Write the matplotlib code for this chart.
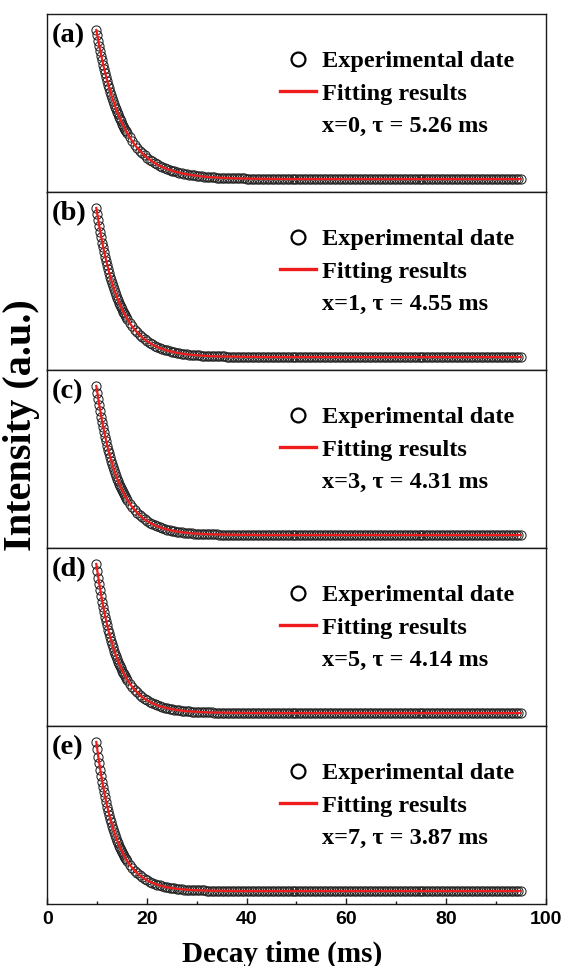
import matplotlib
matplotlib.use('Agg')
import matplotlib.pyplot as plt
from matplotlib.lines import Line2D
from matplotlib.ticker import MultipleLocator

# ---- data (intensity normalised: baseline 0, first point 1) ----
time_ms = [
    9.8, 10.0, 10.2, 10.4, 10.6, 10.8, 11.0, 11.2, 11.4, 11.6, 11.8, 12.0, 12.2, 12.4, 12.6, 12.8,
    13.0, 13.2, 13.4, 13.6, 13.8, 14.0, 14.2, 14.4, 14.6, 14.8, 15.0, 15.2, 15.4, 15.6, 15.8, 16.0,
    16.5, 17.0, 17.5, 18.0, 18.5, 19.0, 19.5, 20.0, 20.5, 21.0, 21.5, 22.0, 22.5, 23.0,
    23.5, 24.0, 24.5, 25.0, 25.5, 26.0, 26.5, 27.0, 27.5, 28.0, 28.5, 29.0, 29.5, 30.0,
    30.5, 31.0, 31.5, 32.0, 32.5, 33.0, 33.5, 34.0, 34.5, 35.0,
    35.5, 36.0, 36.5, 37.0, 37.5, 38.0, 38.5, 39.0, 39.5, 40.0,
    40.5, 41.0, 41.5, 42.0, 42.5, 43.0, 43.5, 44.0, 44.5, 45.0,
    45.5, 46.0, 46.5, 47.0, 47.5, 48.0, 48.5, 49.0, 49.5, 50.0,
    50.5, 51.0, 51.5, 52.0, 52.5, 53.0, 53.5, 54.0, 54.5, 55.0,
    55.5, 56.0, 56.5, 57.0, 57.5, 58.0, 58.5, 59.0, 59.5, 60.0,
    60.5, 61.0, 61.5, 62.0, 62.5, 63.0, 63.5, 64.0, 64.5, 65.0,
    65.5, 66.0, 66.5, 67.0, 67.5, 68.0, 68.5, 69.0, 69.5, 70.0,
    70.5, 71.0, 71.5, 72.0, 72.5, 73.0, 73.5, 74.0, 74.5, 75.0,
    75.5, 76.0, 76.5, 77.0, 77.5, 78.0, 78.5, 79.0, 79.5, 80.0,
    80.5, 81.0, 81.5, 82.0, 82.5, 83.0, 83.5, 84.0, 84.5, 85.0,
    85.5, 86.0, 86.5, 87.0, 87.5, 88.0, 88.5, 89.0, 89.5, 90.0,
    90.5, 91.0, 91.5, 92.0, 92.5, 93.0, 93.5, 94.0, 94.5, 95.0,
]

intensity_a = [
    1.000, 0.963, 0.927, 0.892, 0.859, 0.827, 0.796, 0.766, 0.738, 0.710, 0.684, 0.658, 0.634, 0.610, 0.587, 0.565,
    0.544, 0.524, 0.504, 0.486, 0.467, 0.450, 0.433, 0.417, 0.401, 0.387, 0.372, 0.358, 0.345, 0.332, 0.320, 0.308,
    0.280, 0.254, 0.231, 0.210, 0.191, 0.174, 0.158, 0.144, 0.131, 0.119, 0.108, 0.098, 0.089, 0.081,
    0.074, 0.067, 0.061, 0.056, 0.051, 0.046, 0.042, 0.038, 0.035, 0.031, 0.029, 0.026, 0.024, 0.022,
    0.020, 0.018, 0.016, 0.015, 0.013, 0.012, 0.011, 0.010, 0.009, 0.008,
    0.008, 0.007, 0.006, 0.006, 0.005, 0.005, 0.004, 0.004, 0.004, 0.003,
    0.003, 0.003, 0.002, 0.002, 0.002, 0.002, 0.001, 0.001, 0.001, 0.001,
    0.001, 0.001, 0.001, 0.001,
    0, 0, 0, 0, 0, 0, 0, 0, 0, 0,
    0, 0, 0, 0, 0, 0, 0, 0, 0, 0,
    0, 0, 0, 0, 0, 0, 0, 0, 0, 0,
    0, 0, 0, 0, 0, 0, 0, 0, 0, 0,
    0, 0, 0, 0, 0, 0, 0, 0, 0, 0,
    0, 0, 0, 0, 0, 0, 0, 0, 0, 0,
    0, 0, 0, 0, 0, 0, 0, 0, 0, 0,
    0, 0, 0, 0, 0, 0, 0, 0, 0, 0,
    0, 0, 0, 0, 0, 0, 0, 0, 0, 0,
    0, 0, 0, 0, 0, 0,
]

intensity_b = [
    1.000, 0.957, 0.916, 0.876, 0.839, 0.803, 0.768, 0.735, 0.704, 0.673, 0.644, 0.617, 0.590, 0.565, 0.540, 0.517,
    0.495, 0.474, 0.453, 0.434, 0.415, 0.397, 0.380, 0.364, 0.348, 0.333, 0.319, 0.305, 0.292, 0.280, 0.268, 0.256,
    0.229, 0.205, 0.184, 0.165, 0.148, 0.132, 0.119, 0.106, 0.095, 0.085, 0.076, 0.068, 0.061, 0.055,
    0.049, 0.044, 0.040, 0.035, 0.032, 0.028, 0.025, 0.023, 0.020, 0.018, 0.016, 0.015, 0.013, 0.012,
    0.011, 0.009, 0.008, 0.008, 0.007, 0.006, 0.005, 0.005, 0.004, 0.004,
    0.004, 0.003, 0.003, 0.003, 0.002, 0.002, 0.002, 0.002, 0.002, 0.001,
    0.001, 0.001, 0.001, 0.001, 0.001,
    0, 0, 0, 0, 0, 0, 0, 0, 0, 0,
    0, 0, 0, 0, 0, 0, 0, 0, 0, 0,
    0, 0, 0, 0, 0, 0, 0, 0, 0, 0,
    0, 0, 0, 0, 0, 0, 0, 0, 0, 0,
    0, 0, 0, 0, 0, 0, 0, 0, 0, 0,
    0, 0, 0, 0, 0, 0, 0, 0, 0, 0,
    0, 0, 0, 0, 0, 0, 0, 0, 0, 0,
    0, 0, 0, 0, 0, 0, 0, 0, 0, 0,
    0, 0, 0, 0, 0, 0, 0, 0, 0, 0,
    0, 0, 0, 0, 0, 0, 0, 0, 0, 0,
    0, 0, 0, 0, 0,
]

intensity_c = [
    1.000, 0.955, 0.911, 0.870, 0.831, 0.793, 0.757, 0.723, 0.690, 0.659, 0.629, 0.600, 0.573, 0.547, 0.522, 0.499,
    0.476, 0.454, 0.434, 0.414, 0.395, 0.377, 0.360, 0.344, 0.328, 0.313, 0.299, 0.286, 0.273, 0.260, 0.249, 0.237,
    0.211, 0.188, 0.168, 0.149, 0.133, 0.118, 0.105, 0.094, 0.084, 0.074, 0.066, 0.059, 0.053, 0.047,
    0.042, 0.037, 0.033, 0.029, 0.026, 0.023, 0.021, 0.018, 0.016, 0.015, 0.013, 0.012, 0.010, 0.009,
    0.008, 0.007, 0.007, 0.006, 0.005, 0.005, 0.004, 0.004, 0.003, 0.003,
    0.003, 0.002, 0.002, 0.002, 0.002, 0.001, 0.001, 0.001, 0.001, 0.001,
    0.001, 0.001,
    0, 0, 0, 0, 0, 0, 0, 0, 0, 0,
    0, 0, 0, 0, 0, 0, 0, 0, 0, 0,
    0, 0, 0, 0, 0, 0, 0, 0, 0, 0,
    0, 0, 0, 0, 0, 0, 0, 0, 0, 0,
    0, 0, 0, 0, 0, 0, 0, 0, 0, 0,
    0, 0, 0, 0, 0, 0, 0, 0, 0, 0,
    0, 0, 0, 0, 0, 0, 0, 0, 0, 0,
    0, 0, 0, 0, 0, 0, 0, 0, 0, 0,
    0, 0, 0, 0, 0, 0, 0, 0, 0, 0,
    0, 0, 0, 0, 0, 0, 0, 0, 0, 0,
    0, 0, 0, 0, 0, 0, 0, 0,
]

intensity_d = [
    1.000, 0.953, 0.908, 0.865, 0.824, 0.785, 0.748, 0.713, 0.679, 0.647, 0.617, 0.588, 0.560, 0.534, 0.508, 0.485,
    0.462, 0.440, 0.419, 0.399, 0.381, 0.363, 0.345, 0.329, 0.314, 0.299, 0.285, 0.271, 0.259, 0.246, 0.235, 0.224,
    0.198, 0.176, 0.156, 0.138, 0.122, 0.108, 0.096, 0.085, 0.075, 0.067, 0.059, 0.052, 0.047, 0.041,
    0.037, 0.032, 0.029, 0.025, 0.023, 0.020, 0.018, 0.016, 0.014, 0.012, 0.011, 0.010, 0.009, 0.008,
    0.007, 0.006, 0.005, 0.005, 0.004, 0.004, 0.003, 0.003, 0.003, 0.002,
    0.002, 0.002, 0.002, 0.001, 0.001, 0.001, 0.001, 0.001, 0.001, 0.001,
    0, 0, 0, 0, 0, 0, 0, 0, 0, 0,
    0, 0, 0, 0, 0, 0, 0, 0, 0, 0,
    0, 0, 0, 0, 0, 0, 0, 0, 0, 0,
    0, 0, 0, 0, 0, 0, 0, 0, 0, 0,
    0, 0, 0, 0, 0, 0, 0, 0, 0, 0,
    0, 0, 0, 0, 0, 0, 0, 0, 0, 0,
    0, 0, 0, 0, 0, 0, 0, 0, 0, 0,
    0, 0, 0, 0, 0, 0, 0, 0, 0, 0,
    0, 0, 0, 0, 0, 0, 0, 0, 0, 0,
    0, 0, 0, 0, 0, 0, 0, 0, 0, 0,
    0, 0, 0, 0, 0, 0, 0, 0, 0, 0,
]

intensity_e = [
    1.000, 0.950, 0.902, 0.856, 0.813, 0.772, 0.733, 0.696, 0.661, 0.628, 0.596, 0.566, 0.538, 0.511, 0.485, 0.461,
    0.437, 0.415, 0.394, 0.375, 0.356, 0.338, 0.321, 0.305, 0.289, 0.275, 0.261, 0.248, 0.235, 0.223, 0.212, 0.201,
    0.177, 0.156, 0.137, 0.120, 0.106, 0.093, 0.082, 0.072, 0.063, 0.055, 0.049, 0.043, 0.038, 0.033,
    0.029, 0.025, 0.022, 0.020, 0.017, 0.015, 0.013, 0.012, 0.010, 0.009, 0.008, 0.007, 0.006, 0.005,
    0.005, 0.004, 0.004, 0.003, 0.003, 0.002, 0.002, 0.002, 0.002, 0.001,
    0.001, 0.001, 0.001, 0.001,
    0, 0, 0, 0, 0, 0, 0, 0, 0, 0,
    0, 0, 0, 0, 0, 0, 0, 0, 0, 0,
    0, 0, 0, 0, 0, 0, 0, 0, 0, 0,
    0, 0, 0, 0, 0, 0, 0, 0, 0, 0,
    0, 0, 0, 0, 0, 0, 0, 0, 0, 0,
    0, 0, 0, 0, 0, 0, 0, 0, 0, 0,
    0, 0, 0, 0, 0, 0, 0, 0, 0, 0,
    0, 0, 0, 0, 0, 0, 0, 0, 0, 0,
    0, 0, 0, 0, 0, 0, 0, 0, 0, 0,
    0, 0, 0, 0, 0, 0, 0, 0, 0, 0,
    0, 0, 0, 0, 0, 0, 0, 0, 0, 0,
    0, 0, 0, 0, 0, 0,
]

panel_labels = ['(a)', '(b)', '(c)', '(d)', '(e)']
x_contents = ['0', '1', '3', '5', '7']
tau_values = ['5.26', '4.55', '4.31', '4.14', '3.87']
x_tick_values = [0, 20, 40, 60, 80, 100]
legend_names = ['Experimental date', 'Fitting results']
x_label = 'Decay time (ms)'
y_label = 'Intensity (a.u.)'

intensities = [intensity_a, intensity_b, intensity_c, intensity_d, intensity_e]

SERIF = 'Liberation Serif'
SANS = 'Liberation Sans'
RED = '#ee1c1c'
SPINE = '#1a1a1a'

fig = plt.figure(figsize=(5.64, 9.66), dpi=100)
gs = fig.add_gridspec(5, 1, left=0.0842, right=0.9672, top=0.9855, bottom=0.0642, hspace=0)

for i in range(5):
    ax = fig.add_subplot(gs[i])
    ax.plot(time_ms, intensities[i], ls='none', marker='o', ms=6.6, mfc='none',
            mec='#222222', mew=0.75, zorder=2)
    ax.plot(time_ms, intensities[i], color=RED, lw=1.6, zorder=3)
    ax.set_xlim(0, 100)
    ax.set_ylim(-0.087, 1.107)
    ax.set_yticks([])
    for s in ax.spines.values():
        s.set_linewidth(1.0)
        s.set_color(SPINE)

    ax.text(0.009, 0.876, panel_labels[i], transform=ax.transAxes, ha='left', va='center',
            family=SERIF, weight='bold', fontsize=20.5)

    h_exp = Line2D([], [], ls='none', marker='o', ms=10, mfc='none', mec='black', mew=1.6)
    h_fit = Line2D([], [], color=RED, lw=2.4)
    h_txt = Line2D([], [], ls='none')
    ax.legend([h_exp, h_fit, h_txt],
              [legend_names[0], legend_names[1], f'x={x_contents[i]}, \u03c4 = {tau_values[i]} ms'],
              loc='upper left', bbox_to_anchor=(0.467, 0.796), frameon=False,
              borderpad=0, borderaxespad=0, handlelength=1.47, handletextpad=0.25,
              labelspacing=0.42, prop=dict(family=SERIF, weight='bold', size=17.5))

    if i < 4:
        ax.tick_params(axis='x', which='both', bottom=False, labelbottom=False)
    else:
        ax.set_xticks(x_tick_values)
        ax.xaxis.set_minor_locator(MultipleLocator(10))
        ax.tick_params(axis='x', which='major', direction='in', length=4.5, width=1.0,
                       color=SPINE, pad=5, labelsize=14)
        ax.tick_params(axis='x', which='minor', direction='in', length=2.5, width=1.0, color=SPINE)
        for lab in ax.get_xticklabels():
            lab.set_family(SANS)
            lab.set_weight('bold')

fig.text(0.5, 1 - 954 / 966, x_label, ha='center', va='center', family=SERIF,
         weight='bold', fontsize=21)
fig.text(22 / 564, 1 - 425 / 966, y_label, ha='center', va='center', rotation=90,
         family=SERIF, weight='bold', fontsize=29)

fig.savefig('out.png', dpi=100)
